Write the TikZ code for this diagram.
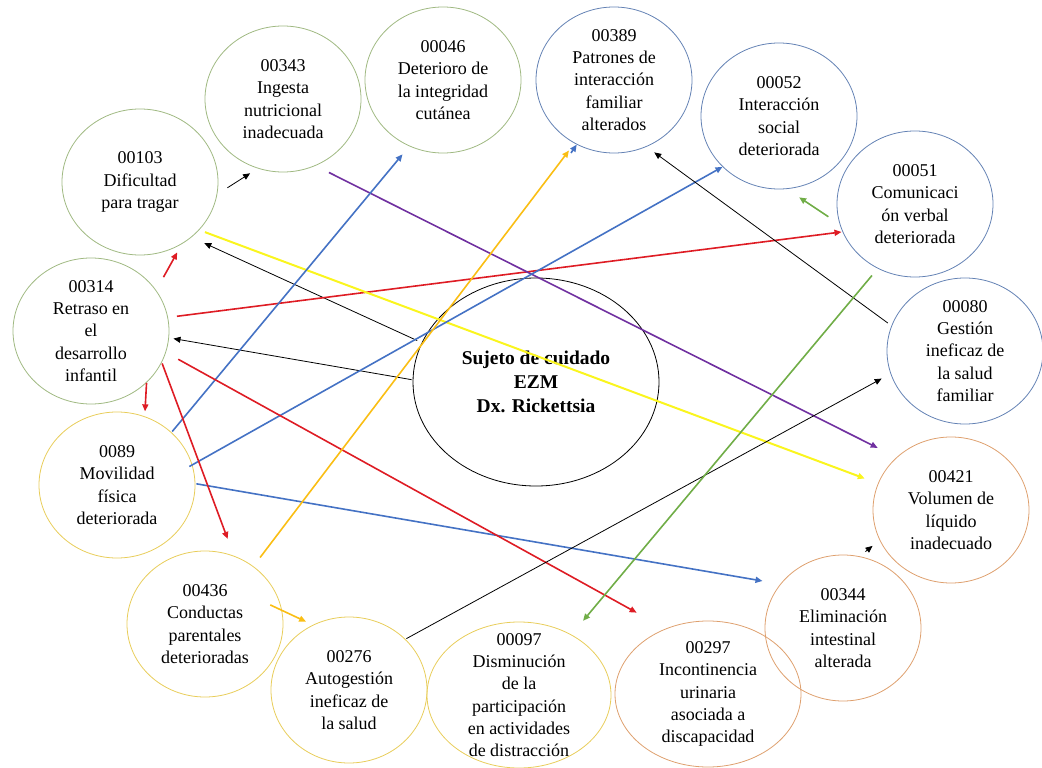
\documentclass[tikz,border=0pt]{standalone}
\usepackage{fontspec}
\setmainfont{Liberation Serif}
\usetikzlibrary{shapes.geometric,arrows.meta}

\definecolor{cirgreen}{RGB}{160,185,130}
\definecolor{cirblue}{RGB}{100,130,180}
\definecolor{ciryellow}{RGB}{232,205,90}
\definecolor{cirorange}{RGB}{222,160,110}
\definecolor{linred}{RGB}{222,28,36}
\definecolor{linblue}{RGB}{68,114,196}
\definecolor{linyellow}{RGB}{250,245,30}
\definecolor{lingold}{RGB}{250,190,20}
\definecolor{linpurple}{RGB}{112,48,160}
\definecolor{lingreen}{RGB}{112,173,71}

\tikzset{
  dx/.style={ellipse, draw=#1, line width=0.8pt, inner sep=0pt,
    minimum width=156pt, minimum height=146pt},
  dxtxt/.style={align=center, inner sep=0pt, font=\fontsize{18}{22.3}\selectfont},
  tip/.style={-{Triangle[length=7pt,width=6pt]}},
  blk/.style={tip, black, line width=0.8pt},
  redl/.style={tip, linred, line width=1.6pt},
  blul/.style={tip, linblue, line width=1.6pt},
  yell/.style={tip, linyellow, line width=2pt},
  gldl/.style={tip, lingold, line width=1.6pt},
  purl/.style={tip, linpurple, line width=1.6pt},
  grnl/.style={tip, lingreen, line width=1.6pt}
}

\begin{document}
\begin{tikzpicture}[x=1pt,y=-1pt]
\useasboundingbox (0,0) rectangle (1042,768);

% central ellipse
\node[ellipse, draw=black, line width=0.8pt, minimum width=246pt, minimum height=208pt,
  label={[align=center, font=\fontsize{19.5}{24}\selectfont\bfseries]center:{Sujeto de cuidado\\EZM\\Dx. Rickettsia}}]
  (Z) at (536,382) {};

% green diagnoses
\node[dx=cirgreen, label={[dxtxt]center:{00343\\Ingesta\\nutricional\\inadecuada}}] (A) at (283,99) {};
\node[dx=cirgreen, label={[dxtxt]center:{00046\\Deterioro de\\la integridad\\cutánea}}] (B) at (443,80) {};
\node[dx=cirgreen, label={[dxtxt]center:{00103\\Dificultad\\para tragar}}] (C) at (140,182) {};
\node[dx=cirgreen, label={[dxtxt]center:{00314\\Retraso en\\el\\desarrollo\\infantil}}] (D) at (91,331) {};

% blue diagnoses
\node[dx=cirblue, label={[dxtxt]center:{00389\\Patrones de\\interacción\\familiar\\alterados}}] (E) at (614,80) {};
\node[dx=cirblue, label={[dxtxt]center:{00052\\Interacción\\social\\deteriorada}}] (F) at (779,116) {};
\node[dx=cirblue, label={[dxtxt]center:{00051\\Comunicaci\\ón verbal\\deteriorada}}] (G) at (915,204) {};
\node[dx=cirblue, label={[dxtxt]center:{00080\\Gestión\\ineficaz de\\la salud\\familiar}}] (H) at (965,351) {};

% yellow diagnoses
\node[dx=ciryellow, label={[dxtxt]center:{0089\\Movilidad\\física\\deteriorada}}] (I) at (117,485) {};
\node[dx=ciryellow, label={[dxtxt]center:{00436\\Conductas\\parentales\\deterioradas}}] (J) at (205,624) {};
\node[dx=ciryellow, label={[dxtxt]center:{00276\\Autogestión\\ineficaz de\\la salud}}] (K) at (349,690) {};
\node[dx=ciryellow, minimum width=184pt, label={[dxtxt]center:{00097\\Disminución\\de la\\participación\\en actividades\\de distracción}}] (L) at (519,695) {};

% orange diagnoses
\node[dx=cirorange, minimum width=186pt, label={[dxtxt]center:{00297\\Incontinencia\\urinaria\\asociada a\\discapacidad}}] (M) at (708,694) {};
\node[dx=cirorange, label={[dxtxt]center:{00344\\Eliminación\\intestinal\\alterada}}] (N) at (843,628) {};
\node[dx=cirorange, label={[dxtxt]center:{00421\\Volumen de\\líquido\\inadecuado}}] (O) at (951,510) {};

% relations
\draw[blk, shorten <=12pt, shorten >=9pt] (C.-9) -- (A.-110);
\draw[redl, shorten <=15pt, shorten >=9.5pt] (D.32) -- (C.-56);
\draw[blk, shorten <=5pt, shorten >=14pt] (Z.161) -- (C.-47);
\draw[blk, shorten <=1pt, shorten >=4.5pt] (Z.179) -- (D.-5);
\draw[redl, shorten <=9pt, shorten >=1pt] (D.10) -- (G.-159);
\draw[yell, shorten <=6pt, shorten >=14pt] (C.-39) -- (O.160);
\draw[purl, shorten <=15pt, shorten >=21pt] (A.-64) -- (O.136);
\draw[blul, shorten <=1pt, shorten >=10.5pt] (I.44) -- (B.-117);
\draw[blul, shorten <=-3.5pt] (I.15) -- (F.-138);
\draw[blul, shorten <=1pt, shorten >=18pt] (I.1) -- (N.145);
\draw[redl, shorten >=5pt] (D.-43) -- (I.68);
\draw[redl, shorten <=1pt, shorten >=18pt] (D.-24) -- (J.67);
\draw[redl, shorten <=14pt, shorten >=33pt] (D.-16) -- (M.123);
\draw[gldl, shorten <=11pt, shorten >=9pt] (J.50) -- (E.-122);
\draw[gldl, shorten <=-13pt, shorten >=7.5pt] (J.10) -- (K.119);
\draw[blk, shorten <=1pt, shorten >=10pt] (K.42) -- (H.-163);
\draw[blk, shorten <=4.5pt, shorten >=9.5pt] (H.161) -- (E.-64);
\draw[grnl, shorten <=13.5pt, shorten >=15pt] (G.-165) -- (F.-84);
\draw[grnl, shorten <=9pt, shorten >=18pt] (G.-120) -- (L.49);
\draw[blk, shorten <=7.5pt, shorten >=9pt] (N.77) -- (O.-157);

% stray blue tip under 00389
\coordinate (bstub) at (571,153);
\draw[blul] (bstub) -- (E.-120);
\end{tikzpicture}
\end{document}
